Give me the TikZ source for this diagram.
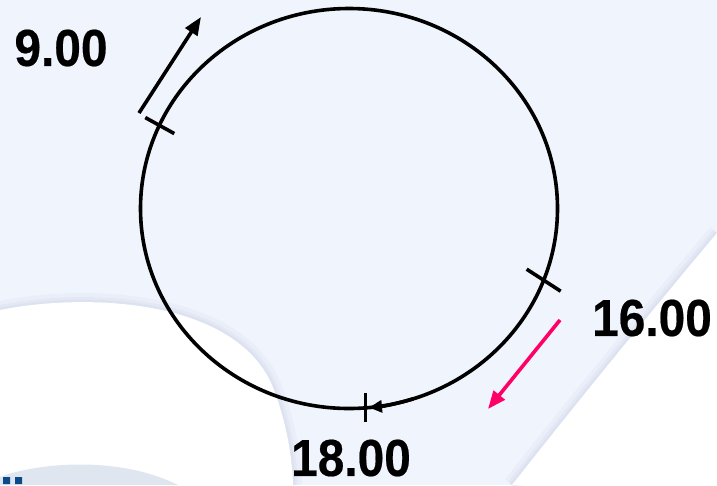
\documentclass[tikz,border=0pt]{standalone}
\usepackage{fontspec}
\newfontfamily\labelfont[FakeStretch=0.92, FakeBold=0.4]{Liberation Sans}
\usetikzlibrary{arrows.meta, calc}

\definecolor{bgblue}{RGB}{240,244,252}
\definecolor{shadeblue}{RGB}{200,210,230}
\definecolor{blobgray}{RGB}{224,230,240}
\definecolor{arrowpink}{RGB}{255,0,102}
\definecolor{dotblue}{RGB}{13,74,138}

\tikzset{
  ring/.style={line width=3.6pt},
  tick/.style={line width=3.6pt},
  sweep/.style={line width=3.6pt, -{Triangle[length=18pt,width=14pt]}},
  hour/.style={font=\labelfont\bfseries\fontsize{52}{60}\selectfont, inner sep=0pt},
}

\begin{document}
\begin{tikzpicture}[x=1pt, y=-1pt]
  % background
  \clip (0,0) rectangle (717,485);
  \fill[bgblue] (0,0) rectangle (717,485);
  \foreach \w/\o in {18/0.15, 10/0.2, 5/0.25} {
    \draw[shadeblue, line width=\w pt, opacity=\o] (0,310) .. controls (90,292) and (235,300) .. (272,385) .. controls (286,420) and (292,455) .. (293,485);
    \draw[shadeblue, line width=\w pt, opacity=\o] (717,233) .. controls (640,325) and (575,405) .. (512,485);
  }
  \fill[white] (0,310) .. controls (90,292) and (235,300) .. (272,385) .. controls (286,420) and (292,455) .. (293,485) -- (0,485) -- cycle;
  \fill[white] (717,233) .. controls (640,325) and (575,405) .. (512,485) -- (717,485) -- cycle;
  \fill[blobgray] (0,477) .. controls (40,462) and (120,456) .. (178,485) -- (0,485) -- cycle;
  \fill[dotblue] (3,477) rectangle (10,484) (15,477) rectangle (22,484);

  % clock ring
  \coordinate (c) at (349,208.5);
  \draw[ring] (c) ellipse [x radius=208.5, y radius=200];
  \coordinate (t9) at ($(c)+(204.5:208.5 and 200)$);
  \coordinate (t16) at ($(c)+(21:208.5 and 200)$);
  \coordinate (t18) at ($(c)+(85.5:208.5 and 200)$);
  \draw[tick] ($(t9)+(-14,-8)$) -- ($(t9)+(15,8)$);
  \draw[tick] ($(t16)+(-17,-11)$) -- ($(t16)+(17,11)$);
  \draw[tick] ($(t18)+(0,-15)$) -- ($(t18)+(0,14)$);
  \draw[ring, -{Triangle[length=13pt,width=12pt]}] ($(c)+(72:208.5 and 200)$) arc [start angle=72, end angle=84.5, x radius=208.5, y radius=200];

  % direction arrows
  \coordinate (a9s) at (139,113);
  \coordinate (a9e) at (201,17);
  \coordinate (a16s) at (560,320);
  \coordinate (a16e) at (488,409);
  \draw[sweep] (a9s) -- (a9e);
  \draw[sweep, arrowpink] (a16s) -- (a16e);

  % hours
  \node[hour] (l9) at (61,48) {9.00};
  \node[hour] (l16) at (652,318) {16.00};
  \node[hour] (l18) at (351,458) {18.00};
\end{tikzpicture}
\end{document}
